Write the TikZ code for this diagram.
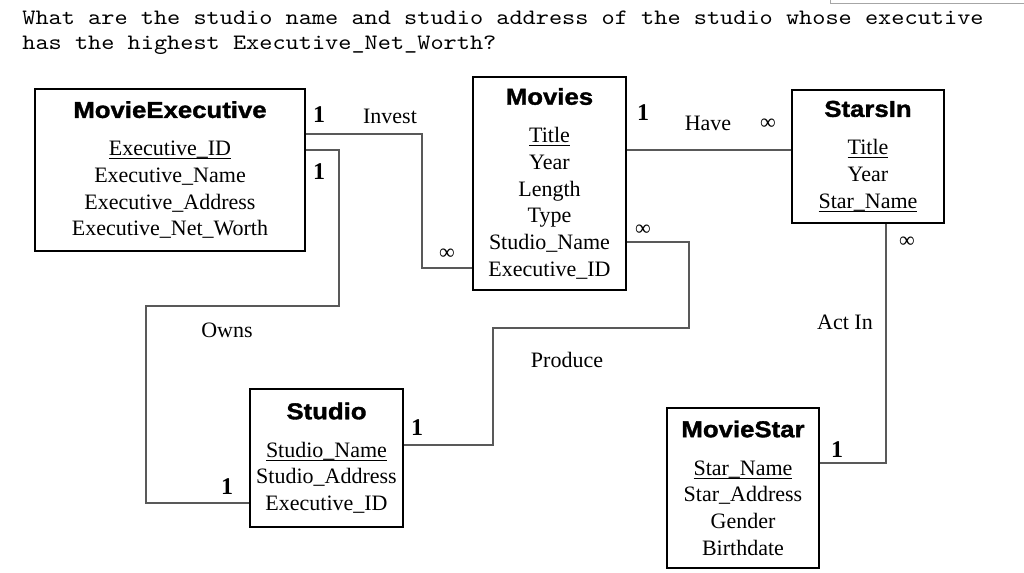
\documentclass[tikz,border=0pt]{standalone}
\usepackage{fontspec}
\setmainfont{Liberation Serif}
\newfontfamily\qfont{lmmono10-regular}[Extension=.otf, FakeStretch=1.14]
\newfontfamily\headfont{Liberation Sans}[FakeStretch=1.12, BoldFeatures={FakeBold=1.5}]
\usetikzlibrary{calc}
\newcommand{\pkey}[1]{\underline{\raisebox{0pt}[\height][0pt]{#1}}}
\newcommand{\headline}[1]{{\headfont\bfseries\fontsize{11.5}{13.35}\selectfont #1}}
\tikzset{
%Define style for the entity boxes
entity/.style={draw, line width=0.75pt, inner sep=1pt, align=center, font=\fontsize{11}{13.35}\selectfont},
%Define style for the relationship lines
link/.style={draw=black!65, line width=1pt},
%Define style for the labels on the lines
card/.style={font=\bfseries\fontsize{12}{14}\selectfont, inner sep=1pt},
many/.style={font=\fontsize{11}{13}\selectfont, inner sep=1pt},
rel/.style={font=\fontsize{11}{13}\selectfont, inner sep=1pt},
question/.style={font=\qfont\fontsize{11}{12.5}\selectfont, align=left, inner sep=0pt, anchor=north west},
}

\begin{document}
\begin{tikzpicture}[x=0.5pt,y=-0.5pt]

    % page
    \path[fill=white, use as bounding box] (0,0) rectangle (1024,573);
    \draw[black!35] (830,0) -- (830,3) -- (1024,3);

    % question
    \node[question] (q) at (22,11) {What are the studio name and studio address of the studio whose executive\\has the highest Executive\_Net\_Worth?};

    % entities
    \node[entity, minimum width=135pt, minimum height=81pt] (mexec) at (170,170)
      {\headline{MovieExecutive}\\[5.6pt] \pkey{Executive\_ID}\\ Executive\_Name\\ Executive\_Address\\ Executive\_Net\_Worth};
    \node[entity, minimum width=76.5pt, minimum height=106.5pt] (movies) at (549.5,183.5)
      {\headline{Movies}\\[5.6pt] \pkey{Title}\\ Year\\ Length\\ Type\\ Studio\_Name\\ Executive\_ID};
    \node[entity, minimum width=76pt, minimum height=66.5pt] (starsin) at (868,156.5)
      {\headline{StarsIn}\\[5.6pt] \pkey{Title}\\ Year\\ \pkey{Star\_Name}};
    \node[entity, minimum width=76.5pt, minimum height=69pt] (studio) at (326.5,458)
      {\headline{Studio}\\[5.6pt] \pkey{Studio\_Name}\\ Studio\_Address\\ Executive\_ID};
    \node[entity, minimum width=76pt, minimum height=80pt] (mstar) at (743,488)
      {\headline{MovieStar}\\[5.6pt] \pkey{Star\_Name}\\ Star\_Address\\ Gender\\ Birthdate};

    % relationships
    \draw[link] (mexec.east |- 0,134) -| (422,268) -- (movies.west |- 0,268);
    \draw[link] (mexec.east |- 0,150) -| (339,306) -| (146,503) -- (studio.west |- 0,503);
    \draw[link] (movies.east |- 0,150) -- (starsin.west |- 0,150);
    \draw[link] (movies.east |- 0,242) -| (689,328) -| (493,445) -- (studio.east |- 0,445);
    \draw[link] (starsin.south -| 886,0) |- (mstar.east |- 0,463);

    % labels
    \node[card] (inv1) at (319,115) {1};
    \node[rel] (invest) at (390,116) {Invest};
    \node[many] (invn) at (447,254) {∞};
    \node[card] (own1) at (319,172) {1};
    \node[rel] (owns) at (227,330) {Owns};
    \node[card] (own2) at (227,487) {1};
    \node[card] (have1) at (643,113) {1};
    \node[rel] (have) at (708,123) {Have};
    \node[many] (haven) at (768,124) {∞};
    \node[many] (prodn) at (643,230) {∞};
    \node[rel] (produce) at (567,360) {Produce};
    \node[card] (prod1) at (417,428) {1};
    \node[many] (actn) at (907,242) {∞};
    \node[rel] (actin) at (845,322) {Act In};
    \node[card] (act1) at (837,450) {1};

\end{tikzpicture}
\end{document}
